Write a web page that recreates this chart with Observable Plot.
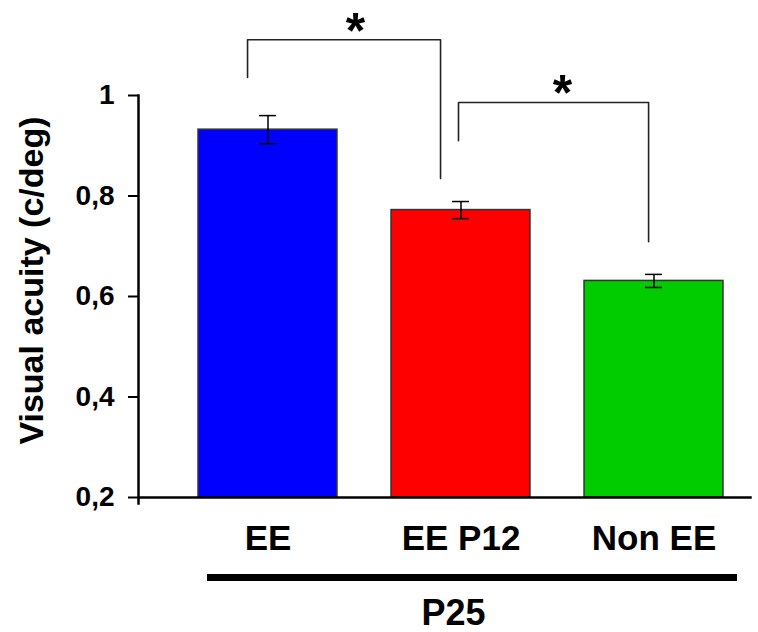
<!DOCTYPE html>
<html>
<head>
<meta charset="utf-8">
<script src="https://cdn.jsdelivr.net/npm/d3@7"></script>
<script src="https://cdn.jsdelivr.net/npm/@observablehq/plot@0.6"></script>
<style>
  html, body { margin: 0; padding: 0; background: #fff; }
  #chart svg { display: block; }
</style>
</head>
<body>
<div id="chart"></div>
<script>
// Groups, means and SEM
const categories = ["EE", "EE P12", "Non EE"];
const values = [0.932, 0.772, 0.631];
const errors = [0.028, 0.017, 0.013];
const colors = ["#0000ff", "#ff0000", "#00cc00"];
const yTicks = [0.2, 0.4, 0.6, 0.8, 1];
const groupLabel = "P25";
const yLabel = "Visual acuity (c/deg)";

// Significance brackets (x in group-index units, y in c/deg)
const bracketX1 = [-0.106, 0.987];
const bracketX2 = [0.894, 1.972];
const bracketY1 = [1.036, 0.910];   // left leg bottom
const bracketTop = [1.111, 0.986];
const bracketY2 = [0.835, 0.709];   // right leg bottom
const starX = [0.453, 1.526];
const starY = [1.149, 1.024];
const starLabel = ["*", "*"];

const bars = categories.map((c, i) => ({i, c, v: values[i], e: errors[i], color: colors[i]}));
const brackets = bracketX1.map((x1, k) => [
  {k, x: x1, y: bracketY1[k]},
  {k, x: x1, y: bracketTop[k]},
  {k, x: bracketX2[k], y: bracketTop[k]},
  {k, x: bracketX2[k], y: bracketY2[k]}
]).flat();
const stars = starX.map((x, k) => ({x, y: starY[k], t: starLabel[k]}));

const font = "'Liberation Sans', Arial, sans-serif";
const capW = 0.044;
const halfBar = 0.36;

const chart = Plot.plot({
  width: 758,
  height: 632,
  marginLeft: 138,
  marginRight: 8,
  marginTop: 95,
  marginBottom: 135,
  style: {fontFamily: font, fontWeight: "bold", background: "#fff", color: "#000", overflow: "visible"},
  x: {type: "linear", domain: [-0.5, 2.5], range: [171, 750]},
  y: {type: "linear", domain: [0.2, 1]},
  marks: [
    Plot.rectY(bars, {x1: d => d.i - halfBar, x2: d => d.i + halfBar, y1: 0.2, y2: "v",
      fill: "color", stroke: "#333", strokeWidth: 1.5}),
    Plot.ruleX(bars, {x: "i", y1: d => d.v - d.e, y2: d => d.v + d.e, stroke: "#000", strokeWidth: 1.5}),
    Plot.ruleY(bars, {y: d => d.v + d.e, x1: d => d.i - capW, x2: d => d.i + capW, stroke: "#000", strokeWidth: 1.5}),
    Plot.ruleY(bars, {y: d => d.v - d.e, x1: d => d.i - capW, x2: d => d.i + capW, stroke: "#000", strokeWidth: 1.5}),
    Plot.line(brackets, {x: "x", y: "y", z: "k", stroke: "#222", strokeWidth: 1.6, curve: "linear"}),
    Plot.text(stars, {x: "x", y: "y", text: "t", fontSize: 50, fontWeight: "bold", fill: "#000", dy: 11}),
    Plot.frame({anchor: "left", stroke: "#000", strokeWidth: 2.5, insetBottom: -6}),
    Plot.frame({anchor: "bottom", stroke: "#000", strokeWidth: 2.5}),
    Plot.axisY({ticks: yTicks, tickSize: 10, tickPadding: 14, fontSize: 28,
      tickFormat: d => String(d).replace(".", ","), label: null, stroke: "#000", strokeWidth: 2}),
    Plot.axisX({ticks: d3.range(categories.length), tickSize: 0, tickPadding: 28, fontSize: 35,
      tickFormat: i => categories[i], label: null}),
    Plot.text([yLabel], {frameAnchor: "left", textAnchor: "middle", rotate: -90, dx: -106, dy: -16,
      fontSize: 34, fontWeight: "bold", fill: "#000"}),
    Plot.ruleY([0.2], {dy: 80, insetLeft: 69, insetRight: 13, stroke: "#000", strokeWidth: 7}),
    Plot.text([groupLabel], {frameAnchor: "bottom", dx: 9, dy: 127, fontSize: 36, fontWeight: "bold", fill: "#000"})
  ]
});
document.getElementById("chart").appendChild(chart);
</script>
</body>
</html>
